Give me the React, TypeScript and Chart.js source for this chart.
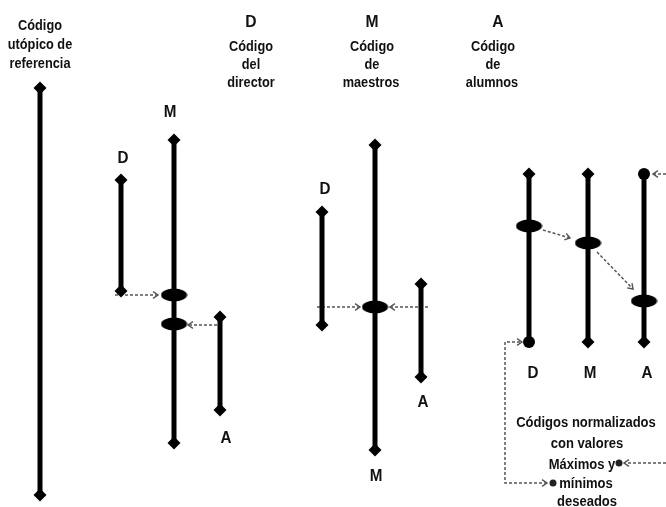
import React, { useEffect, useRef } from 'react';
import { Chart, registerables } from 'chart.js';
Chart.register(...registerables);

// Vertical code ranges (x position, top value, bottom value, end markers)
const rangeX = [40, 121, 174, 220, 322, 375, 421, 529, 588, 644];
const rangeTop = [88, 180, 140, 317, 212, 145, 284, 174, 174, 174];
const rangeBottom = [495, 291, 443, 410, 325, 450, 377, 342, 342, 342];
const topMarker = ['d', 'd', 'd', 'd', 'd', 'd', 'd', 'd', 'd', 'c'];
const bottomMarker = ['d', 'd', 'd', 'd', 'd', 'd', 'd', 'c', 'd', 'd'];

// Consensus points (ellipses)
const ellipseX = [174, 174, 375, 529, 588, 644];
const ellipseY = [295, 324, 307, 226, 243, 301];

// Dashed arrows (paths) and which ends carry a head
const arrowPaths: number[][][] = [
  [[115, 295], [158, 295]],
  [[217, 325], [188, 325]],
  [[317, 307], [360, 307]],
  [[428, 307], [390, 307]],
  [[543, 230], [570, 238]],
  [[597, 252], [633, 289]],
  [[547, 483], [505, 483], [505, 342], [522, 342]],
  [[653, 174], [690, 174], [690, 463], [624, 463]],
];
const arrowHeads = ['end', 'end', 'end', 'end', 'end', 'end', 'both', 'both'];

// Small dots next to "Máximos" / "mínimos"
const dotX = [553, 619];
const dotY = [483, 463];

// Text labels
const headerTexts = [
  'Código', 'utópico de', 'referencia',
  'Código', 'del', 'director',
  'Código', 'de', 'maestros',
  'Código', 'de', 'alumnos',
];
const headerX = [40, 40, 40, 251, 251, 251, 372, 372, 371, 493, 493, 492];
const headerY = [30, 49, 68, 51, 69, 87, 51, 69, 87, 51, 69, 87];

const bigTexts = ['D', 'M', 'A'];
const bigX = [251, 372, 498];
const bigY = [27, 27, 27];

const groupTexts = ['M', 'D', 'A', 'D', 'A', 'M', 'D', 'M', 'A'];
const groupX = [170, 123, 226, 325, 423, 376, 533, 590, 647];
const groupY = [117, 163, 443, 194, 407, 481, 378, 378, 378];

const noteTexts = ['Códigos normalizados', 'con valores', 'Máximos y', 'mínimos', 'deseados'];
const noteX = [586, 587, 582, 586, 587];
const noteY = [427, 448, 469, 488, 506];

const FONT = '"Liberation Sans", Arial, sans-serif';

function makeEllipse(): HTMLCanvasElement {
  const c = document.createElement('canvas');
  c.width = 27;
  c.height = 14;
  const g = c.getContext('2d')!;
  g.fillStyle = '#000';
  g.beginPath();
  g.ellipse(13.5, 7, 13, 6.5, 0, 0, Math.PI * 2);
  g.fill();
  return c;
}

const arrowPlugin = {
  id: 'arrowHeads',
  afterDatasetsDraw(chart: any) {
    const ctx = chart.ctx;
    chart.data.datasets.forEach((ds: any, i: number) => {
      if (!ds.arrowHead) return;
      const pts = chart.getDatasetMeta(i).data;
      const head = (a: any, b: any) => {
        const ang = Math.atan2(b.y - a.y, b.x - a.x);
        const L = 6;
        ctx.save();
        ctx.strokeStyle = '#555';
        ctx.lineWidth = 1.4;
        ctx.setLineDash([]);
        ctx.beginPath();
        ctx.moveTo(b.x - L * Math.cos(ang - 0.6), b.y - L * Math.sin(ang - 0.6));
        ctx.lineTo(b.x, b.y);
        ctx.lineTo(b.x - L * Math.cos(ang + 0.6), b.y - L * Math.sin(ang + 0.6));
        ctx.stroke();
        ctx.restore();
      };
      const n = pts.length;
      head(pts[n - 2], pts[n - 1]);
      if (ds.arrowHead === 'both') head(pts[1], pts[0]);
    });
  },
};

const textPlugin = {
  id: 'diagramText',
  afterDraw(chart: any) {
    const ctx = chart.ctx;
    const xs = chart.scales.x;
    const ys = chart.scales.y;
    const draw = (t: string, x: number, y: number, size: number, sx: number) => {
      ctx.save();
      ctx.translate(xs.getPixelForValue(x), ys.getPixelForValue(y));
      ctx.scale(sx, 1);
      ctx.font = `bold ${size}px ${FONT}`;
      ctx.fillStyle = '#111';
      ctx.textAlign = 'center';
      ctx.textBaseline = 'alphabetic';
      ctx.fillText(t, 0, 0);
      ctx.restore();
    };
    headerTexts.forEach((t, i) => draw(t, headerX[i], headerY[i], 15, 0.85));
    bigTexts.forEach((t, i) => draw(t, bigX[i], bigY[i], 17, 0.92));
    groupTexts.forEach((t, i) => draw(t, groupX[i], groupY[i], 16, 0.95));
    noteTexts.forEach((t, i) => draw(t, noteX[i], noteY[i], 14, 0.93));
  },
};

export default function App() {
  const ref = useRef<HTMLCanvasElement>(null);
  useEffect(() => {
    const ell = makeEllipse();
    const datasets: any[] = [];
    datasets.push({
      data: ellipseX.map((x, i) => ({ x, y: ellipseY[i] })),
      pointStyle: ell,
      showLine: false,
      clip: false,
    });
    datasets.push({
      data: dotX.map((x, i) => ({ x, y: dotY[i] })),
      pointStyle: 'circle',
      pointRadius: 3.5,
      pointBackgroundColor: '#222',
      pointBorderWidth: 0,
      showLine: false,
      clip: false,
    });
    rangeX.forEach((x, i) => {
      const ms = [topMarker[i], bottomMarker[i]];
      datasets.push({
        data: [{ x, y: rangeTop[i] }, { x, y: rangeBottom[i] }],
        showLine: true,
        borderColor: '#000',
        borderWidth: 5,
        pointStyle: ms.map((m) => (m === 'c' ? 'circle' : 'rectRot')),
        pointRadius: ms.map((m) => (m === 'c' ? 6 : 6.5)),
        pointBackgroundColor: '#000',
        pointBorderColor: '#000',
        pointBorderWidth: 0,
        clip: false,
      });
    });
    arrowPaths.forEach((p, i) => {
      datasets.push({
        data: p.map(([x, y]) => ({ x, y })),
        showLine: true,
        borderColor: '#555',
        borderWidth: 1.5,
        borderDash: [3, 2],
        pointRadius: 0,
        arrowHead: arrowHeads[i],
      });
    });
    const chart = new Chart(ref.current!, {
      type: 'scatter',
      data: { datasets },
      options: {
        animation: false,
        responsive: false,
        layout: { padding: 0, autoPadding: false },
        plugins: { legend: { display: false }, tooltip: { enabled: false } },
        scales: {
          x: { type: 'linear', min: 0, max: 666, display: false },
          y: { type: 'linear', min: 0, max: 507, reverse: true, display: false },
        },
      },
      plugins: [arrowPlugin, textPlugin],
    } as any);
    return () => chart.destroy();
  }, []);
  return (
    <div style={{ position: 'absolute', left: 0, top: 0, width: 666, height: 507, background: '#fff' }}>
      <canvas ref={ref} width={666} height={507} style={{ display: 'block' }} />
    </div>
  );
}
